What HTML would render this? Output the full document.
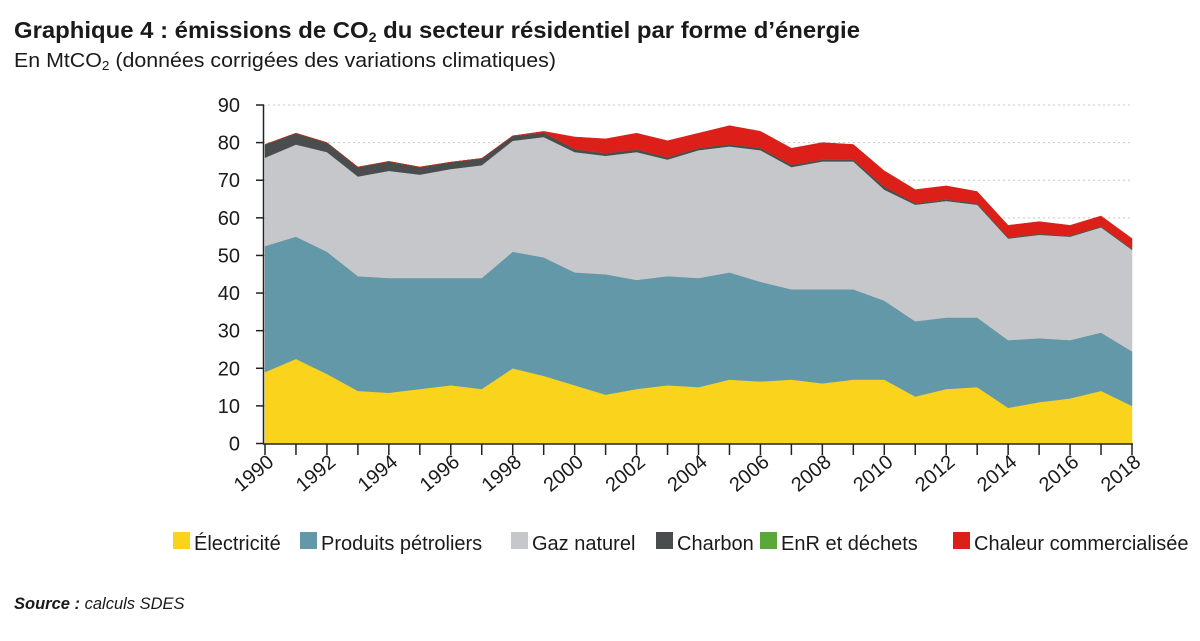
<!DOCTYPE html>
<html><head><meta charset="utf-8"><style>
body{margin:0;background:#fff;}
svg text{font-family:"Liberation Sans",sans-serif;fill:#1a1a1a;}
</style></head><body>
<svg id="chart" width="1200" height="636" viewBox="0 0 1200 636" xmlns="http://www.w3.org/2000/svg">
<text x="14" y="38" font-size="23.5" font-weight="bold" textLength="846" lengthAdjust="spacingAndGlyphs">Graphique 4 : émissions de CO<tspan font-size="14" dy="4">2</tspan><tspan dy="-4"> du secteur résidentiel par forme d’énergie</tspan></text>
<text x="14" y="67" font-size="20.5" textLength="542" lengthAdjust="spacingAndGlyphs">En MtCO<tspan font-size="13" dy="3">2</tspan><tspan dy="-3"> (données corrigées des variations climatiques)</tspan></text>
<g id="grid"></g>
<g id="areas"></g>
<g id="axes"></g>
<g id="legend"></g>
<text x="14" y="609" font-size="16.5" font-style="italic"><tspan font-weight="bold">Source :</tspan> calculs SDES</text>
</svg>
<script>
const years=[1990,1991,1992,1993,1994,1995,1996,1997,1998,1999,2000,2001,2002,2003,2004,2005,2006,2007,2008,2009,2010,2011,2012,2013,2014,2015,2016,2017,2018];
const electricite=[19,22.5,18.5,14,13.5,14.5,15.5,14.5,20,18,15.5,13,14.5,15.5,15,17,16.5,17,16,17,17,12.5,14.5,15,9.5,11,12,14,10];
const petroliers=[33.5,32.5,32.5,30.5,30.5,29.5,28.5,29.5,31,31.5,30,32,29,29,29,28.5,26.5,24,25,24,21,20,19,18.5,18,17,15.5,15.5,14.5];
const gaz=[23.5,24.5,26.5,26.5,28.5,27.5,29,30,29.5,32,32,31.5,34,31,34,33.5,35,32.5,34,34,29.5,31,31,30,27,27.5,27.5,28,27];
const charbon=[3.5,3,2.5,2.5,2.5,2,1.8,1.8,1.3,1.2,0.8,0.7,0.7,0.6,0.6,0.6,0.6,0.6,0.5,0.5,0.8,0.4,0.4,0.4,0.3,0.3,0.3,0.3,0.3];
const enr=[0,0,0,0,0,0,0,0,0,0,0,0,0,0,0,0,0,0,0,0,0,0,0,0,0,0,0,0,0];
const chaleur=[0,0,0,0,0,0,0,0,0,0.3,3.2,3.8,4.3,4.4,3.9,4.9,4.4,4.4,4.5,4,4.2,3.6,3.6,3.1,3.2,3.2,2.7,2.7,2.7];
const yTicks=[0,10,20,30,40,50,60,70,80,90];
const seriesNames=["Électricité","Produits pétroliers","Gaz naturel","Charbon","EnR et déchets","Chaleur commercialisée"];
const seriesColors=["#f9d31c","#6298a8","#c6c7cb","#4a4d4d","#5aa83a","#dc1f18"];
const seriesKeys=["electricite","produits-petroliers","gaz-naturel","charbon","enr-dechets","chaleur-commercialisee"];
const NS="http://www.w3.org/2000/svg";
const X0=265,X1=1132,Y0=443.5,Y90=105;
const x=i=>X0+(years[i]-years[0])/(years[years.length-1]-years[0])*(X1-X0);
const y=v=>Y0-v/90*(Y0-Y90);
function mk(t,a,p){const e=document.createElementNS(NS,t);for(const k in a)e.setAttribute(k,a[k]);p.appendChild(e);return e;}
const grid=document.getElementById('grid'),areas=document.getElementById('areas'),axes=document.getElementById('axes'),legend=document.getElementById('legend');
yTicks.forEach(t=>{if(t>0){const l=mk('line',{x1:263,x2:1132,y1:y(t),y2:y(t),stroke:'#c8c8c8','stroke-dasharray':'2,3','stroke-width':1},grid);

}});
const series=[electricite,petroliers,gaz,charbon,enr,chaleur];
let base=years.map(()=>0);
series.forEach((s,k)=>{const top=base.map((b,i)=>b+s[i]);
let d='M'+years.map((_,i)=>x(i)+','+y(top[i])).join('L');
for(let i=years.length-1;i>=0;i--)d+='L'+x(i)+','+y(base[i]);d+='Z';
const p=mk('path',{d:d,fill:seriesColors[k],stroke:seriesColors[k],'stroke-width':0.5},areas);


base=top;});
const ya=mk('line',{x1:263.5,x2:263.5,y1:105,y2:444,stroke:'#222','stroke-width':1.5},axes);


const xa=mk('line',{x1:263,x2:1133,y1:444,y2:444,stroke:'#222','stroke-width':1.5},axes);


yTicks.forEach(t=>{mk('line',{x1:256,x2:264,y1:y(t),y2:y(t),stroke:'#222','stroke-width':1.5},axes);
const tx=mk('text',{x:240,y:y(t)+7,'font-size':20,'text-anchor':'end'},axes);tx.textContent=t;

});
years.forEach((yr,i)=>{mk('line',{x1:x(i),x2:x(i),y1:444,y2:455,stroke:'#222','stroke-width':1.5},axes);
if(yr%2===0){const tx=mk('text',{x:x(i)+10,y:464,'font-size':20,'text-anchor':'end',transform:'rotate(-40 '+(x(i)+10)+' 464)'},axes);tx.textContent=yr;

}});
const lx=[173,300,511,656,760,953];
seriesNames.forEach((n,k)=>{const g=mk('g',{},legend);


mk('rect',{x:lx[k],y:532,width:17,height:17,fill:seriesColors[k]},g);
const t=mk('text',{x:lx[k]+21,y:550,'font-size':20},g);t.textContent=n;});
</script>
</body></html>
